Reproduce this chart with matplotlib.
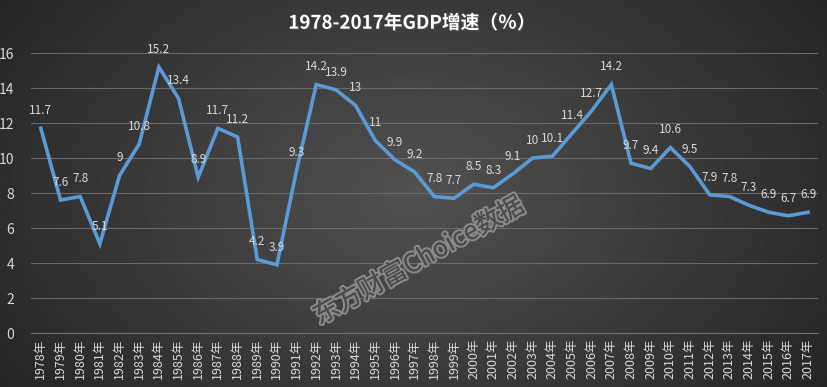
import numpy as np
import matplotlib
matplotlib.use("Agg")
import matplotlib.pyplot as plt
import matplotlib.patheffects as pe

plt.rcParams['font.family'] = ['Noto Sans CJK SC', 'DejaVu Sans']

# GDP growth by year
years = [str(y) + "年" for y in range(1978, 2018)]
growth = [11.7, 7.6, 7.8, 5.1, 9, 10.8, 15.2, 13.4, 8.9, 11.7,
          11.2, 4.2, 3.9, 9.3, 14.2, 13.9, 13, 11, 9.9, 9.2,
          7.8, 7.7, 8.5, 8.3, 9.1, 10, 10.1, 11.4, 12.7, 14.2,
          9.7, 9.4, 10.6, 9.5, 7.9, 7.8, 7.3, 6.9, 6.7, 6.9]
yticks = [0, 2, 4, 6, 8, 10, 12, 14, 16]

fig = plt.figure(figsize=(8.27, 3.87), dpi=100)

# dark gradient background, lighter in the middle
bg = fig.add_axes([0, 0, 1, 1])
gx = np.linspace(-1, 1, 400)
gy = np.linspace(-1, 1, 200)
X, Y = np.meshgrid(gx, gy)
r = np.sqrt((X * 0.9) ** 2 + (Y * 0.6) ** 2)
img = 0.32 - 0.16 * np.clip(r, 0, 1.2)
bg.imshow(img, cmap='gray', vmin=0, vmax=1, aspect='auto', extent=[0, 1, 0, 1])
bg.set_axis_off()

ax = fig.add_axes([0.0375, 0.1395, 0.9515, 0.7235])
ax.set_facecolor('none')
x = np.arange(len(years))
ax.plot(x, growth, color='#5b9bd5', lw=2.6, solid_joinstyle='miter', zorder=3)

for xi, v in zip(x, growth):
    ax.annotate(f"{v:g}", (xi, v), xytext=(0, 8), textcoords='offset points',
                ha='center', va='bottom', color='#d9d9d9', fontsize=8.5, zorder=4)

ax.set_xlim(-0.5, len(years) - 0.5)
ax.set_ylim(0, 16)
ax.set_yticks(yticks)
ax.set_yticklabels([str(t) for t in yticks], color='#d9d9d9', fontsize=10)
ax.set_xticks(x)
ax.set_xticklabels(years, rotation=90, color='#d9d9d9', fontsize=9)
ax.tick_params(length=0, pad=4)
ax.tick_params(axis='y', pad=12)
ax.grid(axis='y', color='#6a6a6a', lw=0.8)
for s in ['top', 'right', 'left']:
    ax.spines[s].set_visible(False)
ax.spines['bottom'].set_color('#707070')
ax.set_axisbelow(True)

fig.text(0.498, 0.94, "1978-2017年GDP增速（％）", ha='center', va='center',
         color='white', fontsize=13.5, fontweight='bold',
         path_effects=[pe.withSimplePatchShadow(offset=(1, -1), alpha=0.6)])

fig.text(0.507, 0.325, "东方财富Choice数据", ha='center', va='center',
         rotation=29, fontsize=18.5, color='#4c4c4c',
         path_effects=[pe.withStroke(linewidth=3, foreground='#8a8a8a'),
                       pe.Normal()], zorder=1)

fig.savefig("out.png", dpi=100)
